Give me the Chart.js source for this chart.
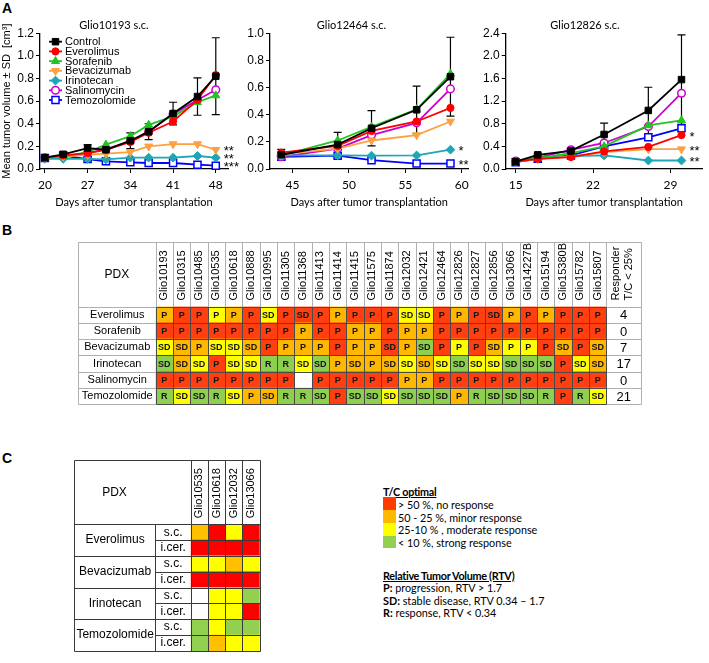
<!DOCTYPE html>
<html>
<head>
<meta charset="utf-8">
<script src="https://cdn.jsdelivr.net/npm/chart.js@4.4.1/dist/chart.umd.min.js"></script>
<style>
html,body{margin:0;padding:0;background:#fff}
body{width:709px;height:663px;position:relative;overflow:hidden;font-family:'Liberation Sans',Arial,sans-serif;color:#000}
canvas{position:absolute}
.pl{position:absolute;font-weight:bold;font-size:14px;line-height:14px}
.lg{position:absolute;font-family:Lato,sans-serif;font-size:10.8px;line-height:13px;white-space:nowrap}
.hd{font-weight:bold;text-decoration:underline;letter-spacing:-0.3px}
.sw{position:absolute;left:383px;width:13px}
</style>
</head>
<body>
<div class="pl" style="left:2px;top:1px">A</div>
<div class="pl" style="left:2px;top:223px">B</div>
<div class="pl" style="left:2px;top:451px">C</div>
<canvas id="cA1" width="240" height="215" style="left:0;top:0"></canvas>
<canvas id="cA2" width="245" height="215" style="left:230px;top:0"></canvas>
<canvas id="cA3" width="244" height="215" style="left:465px;top:0"></canvas>
<canvas id="cB" width="590" height="188" style="left:70px;top:226px"></canvas>
<canvas id="cC" width="215" height="213" style="left:66px;top:450px"></canvas>

<div class="lg hd" style="left:383px;top:485px">T/C optimal</div>
<div class="sw" style="top:497px;height:13px;background:#ff3c00"></div>
<div class="sw" style="top:510px;height:13px;background:#ffb900"></div>
<div class="sw" style="top:523px;height:12.5px;background:#ffff00"></div>
<div class="sw" style="top:535.5px;height:12px;background:#92d050"></div>
<div class="lg" style="left:398px;top:497.5px">&gt; 50 %, no response</div>
<div class="lg" style="left:398px;top:510.5px">50 - 25 %, minor response</div>
<div class="lg" style="left:398px;top:523px">25-10 % , moderate response</div>
<div class="lg" style="left:398px;top:535.5px">&lt; 10 %, strong response</div>
<div class="lg hd" style="left:383px;top:568.5px">Relative Tumor Volume (RTV)</div>
<div class="lg" style="left:383px;top:580.5px"><b>P:</b> progression, RTV &gt; 1.7</div>
<div class="lg" style="left:383px;top:593.5px"><b>SD:</b> stable disease, RTV 0.34 – 1.7</div>
<div class="lg" style="left:383px;top:606px"><b>R:</b> response, RTV &lt; 0.34</div>

<script>
// ---------------- Panel A data ----------------
const seriesNames = ['Control','Everolimus','Sorafenib','Bevacizumab','Irinotecan','Salinomycin','Temozolomide'];

const days1 = [20,23,27,30,34,37,41,45,48];
const control1 = [0.10,0.13,0.185,0.17,0.25,0.33,0.49,0.64,0.82];
const sdControl1 = [0.01,0.02,0.03,0.02,0.07,0.07,0.10,0.165,0.34];
const everolimus1 = [0.10,0.12,0.14,0.17,0.24,0.32,0.42,0.61,0.83];
const sorafenib1 = [0.10,0.11,0.15,0.215,0.29,0.39,0.465,0.59,0.65];
const bevacizumab1 = [0.10,0.11,0.126,0.135,0.15,0.20,0.22,0.22,0.17];
const irinotecan1 = [0.09,0.09,0.09,0.085,0.10,0.10,0.10,0.115,0.10];
const salinomycin1 = [0.10,0.11,0.14,0.176,0.244,0.33,0.485,0.61,0.70];
const temozolomide1 = [0.097,0.118,0.088,0.068,0.059,0.053,0.053,0.038,0.029];
const xTicks1 = [20,27,34,41,48];
const yTicks1 = [0,0.2,0.4,0.6,0.8,1.0,1.2];
const sigNames1 = ['Bevacizumab','Irinotecan','Temozolomide'];
const sigTexts1 = ['**','**','***'];

const days2 = [44,49,52,56,59];
const control2 = [0.105,0.18,0.30,0.436,0.68];
const sdControl2 = [0.04,0.09,0.13,0.175,0.29];
const everolimus2 = [0.12,0.17,0.28,0.35,0.45];
const sorafenib2 = [0.10,0.21,0.31,0.44,0.70];
const bevacizumab2 = [0.11,0.15,0.21,0.25,0.35];
const irinotecan2 = [0.10,0.10,0.098,0.10,0.142];
const salinomycin2 = [0.09,0.15,0.25,0.34,0.59];
const temozolomide2 = [0.09,0.098,0.065,0.04,0.04];
const xTicks2 = [45,50,55,60];
const yTicks2 = [0,0.2,0.4,0.6,0.8,1.0];
const sigNames2 = ['Irinotecan','Temozolomide'];
const sigTexts2 = ['*','**'];

const days3 = [15,17,20,23,27,30];
const control3 = [0.13,0.25,0.32,0.61,1.035,1.58];
const sdControl3 = [0.02,0.03,0.03,0.20,0.41,0.79];
const everolimus3 = [0.13,0.18,0.21,0.31,0.39,0.60];
const sorafenib3 = [0.13,0.19,0.28,0.40,0.77,0.86];
const bevacizumab3 = [0.13,0.18,0.22,0.30,0.35,0.35];
const irinotecan3 = [0.13,0.18,0.23,0.24,0.15,0.15];
const salinomycin3 = [0.14,0.20,0.34,0.46,0.75,1.34];
const temozolomide3 = [0.12,0.18,0.24,0.40,0.56,0.72];
const xTicks3 = [15,22,29];
const yTicks3 = [0,0.4,0.8,1.2,1.6,2.0,2.4];
const sigNames3 = ['Everolimus','Bevacizumab','Irinotecan'];
const sigTexts3 = ['*','**','**'];

// ---------------- Panel B data ----------------
const drugsB = ['Everolimus','Sorafenib','Bevacizumab','Irinotecan','Salinomycin','Temozolomide'];
const pdxB = ['Glio10193','Glio10315','Glio10485','Glio10535','Glio10618','Glio10888','Glio10995','Glio11305','Glio11368','Glio11413','Glio11414','Glio11415','Glio11575','Glio11874','Glio12032','Glio12421','Glio12464','Glio12826','Glio12827','Glio12856','Glio13066','Glio14227B','Glio15194','Glio15380B','Glio15782','Glio15807'];
const responderHeader = ['Responder','T/C < 25%'];
const rtvEverolimus   = ['P','P','P','P','P','P','SD','P','SD','P','P','P','P','P','SD','SD','P','P','P','SD','P','P','P','P','P','P'];
const tcEverolimus    = ['o','r','r','y','o','r','y','r','r','r','o','r','r','r','y','y','r','o','r','r','o','r','o','r','r','r'];
const rtvSorafenib    = ['P','P','P','P','P','P','P','P','P','P','P','P','P','P','P','P','P','P','P','P','P','P','P','P','P','P'];
const tcSorafenib     = ['r','r','r','r','r','r','r','r','o','r','r','o','o','r','o','o','r','r','r','r','r','r','r','r','r','r'];
const rtvBevacizumab  = ['SD','SD','P','SD','SD','SD','P','P','P','P','P','P','P','SD','P','SD','P','P','P','SD','P','P','P','SD','P','SD'];
const tcBevacizumab   = ['y','o','o','y','y','o','r','o','o','o','r','o','o','r','o','g','r','y','r','o','y','y','r','o','r','o'];
const rtvIrinotecan   = ['SD','SD','SD','P','SD','SD','R','R','SD','SD','P','SD','P','SD','SD','SD','SD','SD','SD','SD','SD','SD','SD','P','SD','SD'];
const tcIrinotecan    = ['g','o','y','r','y','y','g','g','y','g','o','o','o','o','y','o','y','g','y','y','g','g','g','r','y','o'];
const rtvSalinomycin  = ['P','P','P','P','P','P','P','P','','P','P','P','P','P','P','P','P','P','P','P','P','P','P','P','P','P'];
const tcSalinomycin   = ['r','r','r','r','r','r','r','r','w','r','r','r','r','r','o','o','r','r','r','r','r','r','r','r','r','r'];
const rtvTemozolomide = ['R','SD','SD','R','SD','P','SD','R','R','SD','P','SD','SD','SD','SD','SD','SD','P','R','SD','SD','SD','R','P','R','SD'];
const tcTemozolomide  = ['g','y','g','g','y','o','o','g','g','g','r','g','g','y','g','g','g','o','g','g','g','g','g','r','g','y'];
const respondersB = [4,0,7,17,0,21];

// ---------------- Panel C data ----------------
const drugsC = ['Everolimus','Bevacizumab','Irinotecan','Temozolomide'];
const routesC = ['s.c.','i.cer.','s.c.','i.cer.','s.c.','i.cer.','s.c.','i.cer.'];
const pdxC = ['Glio10535','Glio10618','Glio12032','Glio13066'];
const tcEverolimusSc    = ['o','r','y','r'];
const tcEverolimusIcer  = ['r','r','r','r'];
const tcBevacizumabSc   = ['y','y','o','y'];
const tcBevacizumabIcer = ['r','r','r','r'];
const tcIrinotecanSc    = ['w','y','y','g'];
const tcIrinotecanIcer  = ['w','y','y','r'];
const tcTemozolomideSc  = ['g','y','g','g'];
const tcTemozolomideIcer= ['g','o','y','y'];

// ---------------- styles ----------------
const seriesStyle = [
  {color:'#000000', shape:'rect',     r:4.6, fill:'#000000', rot:0,   bw:1},
  {color:'#ff0000', shape:'circle',   r:3.6, fill:'#ff0000', rot:0,   bw:1},
  {color:'#22c322', shape:'triangle', r:4.6, fill:'#22c322', rot:0,   bw:1},
  {color:'#ffa040', shape:'triangle', r:4.6, fill:'#ffa040', rot:180, bw:1},
  {color:'#1ea6b6', shape:'rectRot',  r:4.4, fill:'#1ea6b6', rot:0,   bw:1},
  {color:'#cc00cc', shape:'circle',   r:3.8, fill:'#ffffff', rot:0,   bw:1.5},
  {color:'#0000ff', shape:'rect',     r:5.0, fill:'#ffffff', rot:0,   bw:1.5}
];
const tcColorsB = {r:'#ff3f0f', o:'#ffb700', y:'#ffff00', g:'#8fcf4f', w:'#ffffff'};
const tcColorsC = {r:'#ff0000', o:'#ffc000', y:'#ffff00', g:'#92d050', w:'#ffffff'};
const AX = "'Liberation Sans', Arial, sans-serif";
const HEAD_LH = 13.2; // line height of 11px rotated header labels

function drawMarker(ctx, st, x, y){
  ctx.save();
  ctx.fillStyle = st.fill; ctx.strokeStyle = st.color; ctx.lineWidth = st.bw;
  if (Chart.helpers && Chart.helpers.drawPoint) {
    Chart.helpers.drawPoint(ctx, {pointStyle: st.shape, radius: st.r, rotation: st.rot, borderWidth: st.bw}, x, y);
  } else {
    ctx.beginPath(); ctx.arc(x, y, st.r, 0, Math.PI*2); ctx.fill(); ctx.stroke();
  }
  ctx.restore();
}

function errPlugin(sd){
  return { id:'errBars', beforeDatasetsDraw(chart){
    if(!sd) return;
    const ctx = chart.ctx, xs = chart.scales.x, ys = chart.scales.y;
    const pts = chart.data.datasets[0].data;
    ctx.save(); ctx.strokeStyle = '#000'; ctx.lineWidth = 1.2;
    sd.forEach((s,i)=>{
      const p = pts[i]; const x = xs.getPixelForValue(p.x);
      const y1 = ys.getPixelForValue(p.y + s), y2 = ys.getPixelForValue(Math.max(p.y - s, 0));
      ctx.beginPath();
      ctx.moveTo(x, y1); ctx.lineTo(x, y2);
      ctx.moveTo(x-4, y1); ctx.lineTo(x+4, y1);
      ctx.moveTo(x-4, y2); ctx.lineTo(x+4, y2);
      ctx.stroke();
    });
    ctx.restore();
  }};
}
function sigPlugin(names, texts){
  return { id:'sigMarks', afterDatasetsDraw(chart){
    const ctx = chart.ctx;
    ctx.save(); ctx.fillStyle = '#000'; ctx.font = '13px ' + AX; ctx.textBaseline = 'middle'; ctx.textAlign = 'left';
    names.forEach((n,i)=>{
      const meta = chart.getDatasetMeta(seriesNames.indexOf(n));
      const el = meta.data[meta.data.length-1];
      ctx.fillText(texts[i], el.x + 8, el.y + 2);
    });
    ctx.restore();
  }};
}
const legendPlugin = { id:'innerLegend', afterDraw(chart){
  const ctx = chart.ctx;
  ctx.save();
  seriesNames.forEach((n,k)=>{
    const y = 41.7 + k*9.72, st = seriesStyle[k];
    ctx.strokeStyle = st.color; ctx.lineWidth = 1.8;
    ctx.beginPath(); ctx.moveTo(49, y); ctx.lineTo(62, y); ctx.stroke();
    drawMarker(ctx, st, 55.5, y);
    ctx.fillStyle = '#000'; ctx.font = '11px ' + AX; ctx.textBaseline = 'middle'; ctx.textAlign = 'left';
    ctx.fillText(n, 65, y + 0.5);
  });
  ctx.restore();
}};

function buildLine(id, c){
  const datasets = seriesNames.map((n,k)=>({
    label: n,
    data: c.days.map((d,i)=>({x:d, y:c.series[k][i]})),
    borderColor: seriesStyle[k].color, backgroundColor: seriesStyle[k].fill,
    pointStyle: seriesStyle[k].shape, pointRadius: seriesStyle[k].r, pointRotation: seriesStyle[k].rot,
    pointBorderColor: seriesStyle[k].color, pointBackgroundColor: seriesStyle[k].fill,
    pointBorderWidth: seriesStyle[k].bw, borderWidth: 1.8, tension: 0, clip: false, fill: false
  }));
  const grid = {display:true, drawOnChartArea:false, drawTicks:true, tickLength:4, color:'#000', lineWidth:1};
  const plugins = [errPlugin(c.sd), sigPlugin(c.sigNames, c.sigTexts)];
  if (c.legend) plugins.push(legendPlugin);
  return new Chart(document.getElementById(id), {
    type:'line',
    data:{datasets},
    options:{
      responsive:false, animation:false, devicePixelRatio:1,
      layout:{padding:{left:0, right:c.padRight, top:0, bottom:0}},
      plugins:{
        legend:{display:false}, tooltip:{enabled:false},
        title:{display:true, text:c.title, color:'#000', font:{family:'Lato', size:11, weight:'normal'}, padding:{top:19, bottom:1}}
      },
      scales:{
        x:{type:'linear', min:c.xMin, max:c.xMax,
           afterBuildTicks:s=>{ s.ticks = c.xTicks.map(v=>({value:v})); },
           grid:grid, border:{display:true, color:'#000', width:1.3},
           ticks:{color:'#000', font:{family:'Lato', size:12}, padding:5, maxRotation:0, autoSkip:false},
           title:{display:true, text:'Days after tumor transplantation', color:'#000', font:{family:'Lato', size:11}, padding:{top:0, bottom:6}},
           afterFit:s=>{ s.height = 46; }},
        y:{type:'linear', min:0, max:c.yTicks[c.yTicks.length-1],
           afterBuildTicks:s=>{ s.ticks = c.yTicks.map(v=>({value:v})); },
           grid:grid, border:{display:true, color:'#000', width:1.3},
           ticks:{color:'#000', font:{family:AX, size:12}, padding:2, callback:v=>Number(v).toFixed(1)},
           title:{display:!!c.yTitle, text:c.yTitle || '', color:'#000', font:{family:AX, size:11}, padding:{top:0, bottom:0}},
           afterFit:s=>{ s.width = c.yWidth; }}
      }
    },
    plugins
  });
}

buildLine('cA1', {days:days1, series:[control1,everolimus1,sorafenib1,bevacizumab1,irinotecan1,salinomycin1,temozolomide1],
  sd:sdControl1, xMin:19.2, xMax:50, xTicks:xTicks1, yTicks:yTicks1, title:'Glio10193 s.c.',
  sigNames:sigNames1, sigTexts:sigTexts1, legend:true, padRight:12, yWidth:40, yTitle:'Mean tumor volume ± SD  [cm³]'});
buildLine('cA2', {days:days2, series:[control2,everolimus2,sorafenib2,bevacizumab2,irinotecan2,salinomycin2,temozolomide2],
  sd:sdControl2, xMin:43, xMax:60.6, xTicks:xTicks2, yTicks:yTicks2, title:'Glio12464 s.c.',
  sigNames:sigNames2, sigTexts:sigTexts2, legend:false, padRight:2, yWidth:40});
buildLine('cA3', {days:days3, series:[control3,everolimus3,sorafenib3,bevacizumab3,irinotecan3,salinomycin3,temozolomide3],
  sd:sdControl3, xMin:14.1, xMax:31.9, xTicks:xTicks3, yTicks:yTicks3, title:'Glio12826 s.c.',
  sigNames:sigNames3, sigTexts:sigTexts3, legend:false, padRight:4, yWidth:40.7});

// ---------------- Table B ----------------
(function(){
  const rtvB = [rtvEverolimus, rtvSorafenib, rtvBevacizumab, rtvIrinotecan, rtvSalinomycin, rtvTemozolomide];
  const tcB = [tcEverolimus, tcSorafenib, tcBevacizumab, tcIrinotecan, tcSalinomycin, tcTemozolomide];
  const nC = pdxB.length;
  const datasets = pdxB.map((p,j)=>({
    label:p, data: drugsB.map(()=>[j, j+1]),
    backgroundColor: drugsB.map((d,i)=>tcColorsB[tcB[i][j]]),
    borderWidth:0, barPercentage:1, categoryPercentage:1, grouped:false
  }));
  datasets.push({label:'Responder', data: drugsB.map(()=>[nC, nC+2]), backgroundColor:'#ffffff',
    borderWidth:0, barPercentage:1, categoryPercentage:1, grouped:false});
  const tickVals = pdxB.map((p,j)=>j+0.5).concat([nC+1.3]);
  const tablePlugin = { id:'tableB', afterDatasetsDraw(chart){
    const ctx = chart.ctx, xs = chart.scales.x, ys = chart.scales.y, ca = chart.chartArea;
    const P = v=>Math.round(v)+0.5;
    const rt = ca.top, top = rt - 65, left = ys.left, right = ca.right, bottom = ca.bottom;
    const band = (bottom - rt)/drugsB.length;
    const x0 = xs.getPixelForValue(0), x1 = xs.getPixelForValue(nC);
    ctx.save(); ctx.lineWidth = 1;
    ctx.strokeStyle = '#b0b0b0';
    ctx.beginPath();
    ctx.rect(P(left), P(top), P(right)-P(left), P(bottom)-P(top));
    for (let j=0;j<=nC;j++){ const x=P(xs.getPixelForValue(j)); ctx.moveTo(x,P(top)); ctx.lineTo(x,P(rt)); }
    ctx.moveTo(P(left),P(rt)); ctx.lineTo(P(right),P(rt));
    for (let k=1;k<drugsB.length;k++){ const y=P(rt+k*band);
      ctx.moveTo(P(left),y); ctx.lineTo(P(x0),y); ctx.moveTo(P(x1),y); ctx.lineTo(P(right),y); }
    ctx.stroke();
    ctx.strokeStyle = '#4a4a4a';
    ctx.beginPath();
    for (let j=0;j<=nC;j++){ const x=P(xs.getPixelForValue(j)); ctx.moveTo(x,P(rt)); ctx.lineTo(x,P(bottom)); }
    for (let k=0;k<=drugsB.length;k++){ const y=P(rt+k*band); ctx.moveTo(P(x0),y); ctx.lineTo(P(x1),y); }
    ctx.stroke();
    ctx.fillStyle = '#141414'; ctx.textAlign = 'center'; ctx.textBaseline = 'middle';
    ctx.font = 'bold 9px ' + AX;
    for (let j=0;j<nC;j++){
      const meta = chart.getDatasetMeta(j);
      meta.data.forEach((el,i)=>{ const t = rtvB[i][j]; if (t) ctx.fillText(t, (el.x+el.base)/2, el.y+0.5); });
    }
    ctx.fillStyle = '#000'; ctx.font = '13px ' + AX;
    chart.getDatasetMeta(nC).data.forEach((el,i)=>{ ctx.fillText(String(respondersB[i]), (el.x+el.base)/2, el.y+1); });
    ctx.font = '12px ' + AX;
    ctx.fillText('PDX', (left + x0)/2, (top + rt)/2 + 1);
    ctx.restore();
  }};
  new Chart(document.getElementById('cB'), {
    type:'bar',
    data:{labels:drugsB, datasets},
    options:{
      indexAxis:'y', responsive:false, animation:false, devicePixelRatio:1,
      layout:{padding:{left:8, right:19, top:15.5, bottom:4}},
      plugins:{legend:{display:false}, tooltip:{enabled:false}},
      scales:{
        x:{type:'linear', position:'top', min:0, max:nC+2,
           afterBuildTicks:s=>{ s.ticks = tickVals.map(v=>({value:v})); },
           ticks:{autoSkip:false, minRotation:90, maxRotation:90, padding:6, labelOffset:HEAD_LH, color:'#000',
                  font:{family:AX, size:11, lineHeight:1.2},
                  callback:(v,i)=> i < nC ? pdxB[i] : responderHeader},
           grid:{display:false, drawTicks:false}, border:{display:false},
           afterFit:s=>{ s.height = 65; }},
        y:{type:'category', offset:true, grid:{display:false, drawTicks:false}, border:{display:false},
           ticks:{autoSkip:false, crossAlign:'center', padding:3, color:'#000', font:{family:AX, size:11}},
           afterFit:s=>{ s.width = 77.7; }}
      }
    },
    plugins:[tablePlugin]
  });
})();

// ---------------- Table C ----------------
(function(){
  const tcC = [tcEverolimusSc, tcEverolimusIcer, tcBevacizumabSc, tcBevacizumabIcer, tcIrinotecanSc, tcIrinotecanIcer, tcTemozolomideSc, tcTemozolomideIcer];
  const nC = pdxC.length;
  const datasets = pdxC.map((p,j)=>({
    label:p, data: routesC.map(()=>[j, j+1]),
    backgroundColor: routesC.map((r,i)=>tcColorsC[tcC[i][j]]),
    borderWidth:0, barPercentage:1, categoryPercentage:1, grouped:false
  }));
  const tablePlugin = { id:'tableC', afterDatasetsDraw(chart){
    const ctx = chart.ctx, xs = chart.scales.x, ys = chart.scales.y, yg = chart.scales.yg, ca = chart.chartArea;
    const P = v=>Math.round(v)+0.5;
    const rt = ca.top, top = rt - 64.3, left = yg.left, mid = ys.left, right = ca.right, bottom = ca.bottom;
    const band = (bottom - rt)/routesC.length;
    ctx.save(); ctx.lineWidth = 1;
    ctx.strokeStyle = '#3a3a3a';
    ctx.beginPath();
    ctx.rect(P(left), P(top), P(right)-P(left), P(bottom)-P(top));
    ctx.moveTo(P(left),P(rt)); ctx.lineTo(P(right),P(rt));
    for (let j=0;j<nC;j++){ const x=P(xs.getPixelForValue(j)); ctx.moveTo(x,P(top)); ctx.lineTo(x,P(bottom)); }
    ctx.moveTo(P(mid),P(rt)); ctx.lineTo(P(mid),P(bottom));
    for (let k=1;k<routesC.length;k++){ const y=P(rt+k*band);
      const x = (k%2===0) ? left : mid; ctx.moveTo(P(x),y); ctx.lineTo(P(right),y); }
    ctx.stroke();
    ctx.fillStyle = '#000'; ctx.textAlign = 'center'; ctx.textBaseline = 'middle';
    ctx.font = '12px ' + AX;
    ctx.fillText('PDX', (left + mid)/2, (top + rt)/2 + 1);
    ctx.restore();
  }};
  new Chart(document.getElementById('cC'), {
    type:'bar',
    data:{labels:routesC, datasets},
    options:{
      indexAxis:'y', responsive:false, animation:false, devicePixelRatio:1,
      layout:{padding:{left:8, right:21.3, top:10, bottom:0.7}},
      plugins:{legend:{display:false}, tooltip:{enabled:false}},
      scales:{
        x:{type:'linear', position:'top', min:0, max:nC,
           afterBuildTicks:s=>{ s.ticks = pdxC.map((p,j)=>({value:j+0.5})); },
           ticks:{autoSkip:false, minRotation:90, maxRotation:90, padding:6, labelOffset:HEAD_LH, color:'#000',
                  font:{family:AX, size:11, lineHeight:1.2}, callback:(v,i)=> pdxC[i]},
           grid:{display:false, drawTicks:false}, border:{display:false},
           afterFit:s=>{ s.height = 64.3; }},
        y:{type:'category', offset:true, weight:0, grid:{display:false, drawTicks:false}, border:{display:false},
           ticks:{autoSkip:false, crossAlign:'center', padding:4.9, color:'#000', font:{family:AX, size:12}},
           afterFit:s=>{ s.width = 35.7; }},
        yg:{type:'category', labels:drugsC, position:'left', offset:true, weight:1, grid:{display:false, drawTicks:false}, border:{display:false},
           ticks:{autoSkip:false, crossAlign:'center', padding:1.2, color:'#000', font:{family:AX, size:12}},
           afterFit:s=>{ s.width = 81; }}
      }
    },
    plugins:[tablePlugin]
  });
})();
</script>
</body>
</html>
